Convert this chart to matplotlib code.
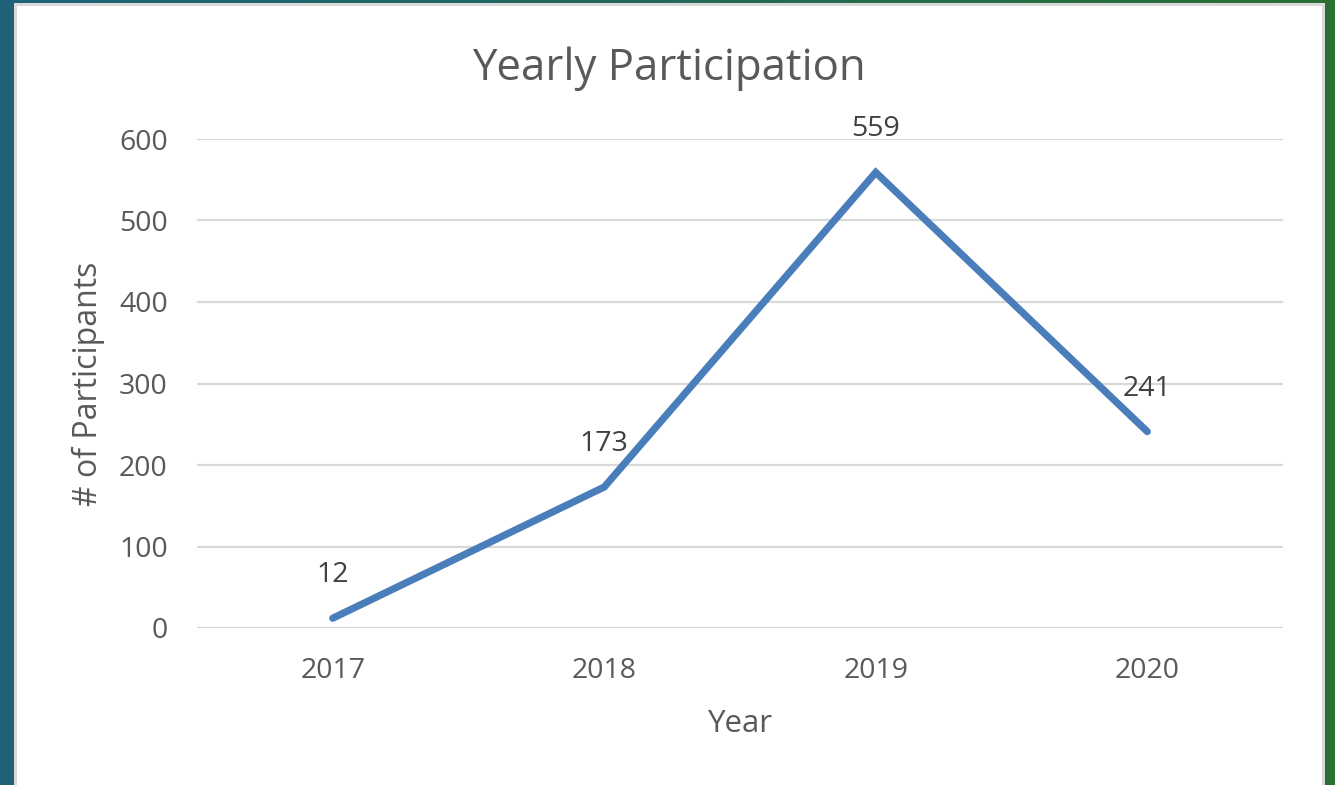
import numpy as np
import matplotlib.pyplot as plt
from matplotlib.colors import LinearSegmentedColormap
from matplotlib.patches import Rectangle

years = ['2017', '2018', '2019', '2020']
participants = [12, 173, 559, 241]
yticks = [0, 100, 200, 300, 400, 500, 600]

plt.rcParams['font.family'] = ['Open Sans', 'DejaVu Sans']
txt = '#595959'

fig = plt.figure(figsize=(13.35, 7.85), dpi=100)

# slide background behind the chart box
bg = fig.add_axes([0, 0, 1, 1], zorder=-10)
cmap = LinearSegmentedColormap.from_list('bg', ['#1f6278', '#236a5a', '#2a7032'])
bg.imshow(np.linspace(0, 1, 256).reshape(1, -1), cmap=cmap, aspect='auto',
          extent=[0, 1, 0, 1])
bg.add_patch(Rectangle((14 / 1335, 0), 1311 / 1335, 782 / 785,
                       facecolor='#d9d9d9', edgecolor='none'))
bg.add_patch(Rectangle((17 / 1335, 0), 1305 / 1335, 779 / 785,
                       facecolor='white', edgecolor='none'))
bg.set_xlim(0, 1)
bg.set_ylim(0, 1)
bg.axis('off')

ax = fig.add_axes([197 / 1335, 157 / 785, 1086 / 1335, 489 / 785])
ax.patch.set_alpha(0)
x = np.arange(len(years))
ax.plot(x, participants, color='#4a7ebb', lw=5.2, solid_capstyle='round',
        solid_joinstyle='miter', zorder=3)
for xi, v in zip(x, participants):
    ax.annotate(str(v), (xi, v), xytext=(0, 31), textcoords='offset points',
                ha='center', va='center', fontsize=20.5, color='#404040')

ax.set_xlim(-0.5, 3.5)
ax.set_ylim(0, 600)
ax.set_xticks(x)
ax.set_xticklabels(years)
ax.set_yticks(yticks)
ax.grid(axis='y', color='#d9d9d9', lw=1.6)
ax.set_axisbelow(True)
for s in ax.spines.values():
    s.set_visible(False)
ax.tick_params(length=0, labelsize=20.5, colors=txt)
ax.tick_params(axis='x', pad=21)
ax.tick_params(axis='y', pad=21)
ax.set_xlabel('Year', fontsize=22.5, color=txt, va='center')
ax.set_ylabel('# of Participants', fontsize=23, color=txt, va='center')
ax.xaxis.set_label_coords(0.5, (785 - 724 - 157) / 489)
ax.yaxis.set_label_coords((88 - 197) / 1086, 0.5)

fig.text(669 / 1335, 1 - 69 / 785, 'Yearly Participation', ha='center', va='center',
         fontsize=31.5, color=txt)

fig.savefig('out.png', dpi=100)
